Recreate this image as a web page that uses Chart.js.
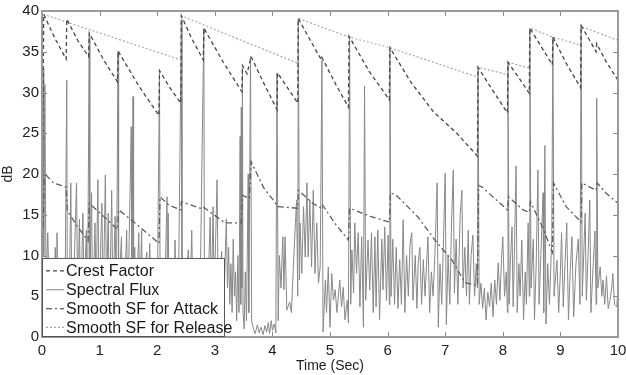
<!DOCTYPE html>
<html>
<head>
<meta charset="utf-8">
<script src="https://cdn.jsdelivr.net/npm/chart.js@4.4.0/dist/chart.umd.min.js"></script>
<style>
  body { margin: 0; background: #fff; }
</style>
</head>
<body>
<canvas id="chart" width="626" height="375"></canvas>
<script>
// values: [time (sec), dB]
const xTicks = [0, 1, 2, 3, 4, 5, 6, 7, 8, 9, 10];
const yTicks = [0, 5, 10, 15, 20, 25, 30, 35, 40];

const crestFactor = [
  [0, 13], [0.03, 39.6], [0.22, 36.7], [0.42, 34.1],
  [0.43, 39.0], [0.62, 36.4], [0.81, 34.4],
  [0.82, 37.3], [1.07, 34.0], [1.31, 31.3],
  [1.32, 35.1], [1.68, 30.8], [2.03, 27.2],
  [2.04, 32.7], [2.22, 30.6], [2.41, 28.7],
  [2.42, 39.4], [2.6, 36.6], [2.8, 34.0],
  [2.81, 37.9], [3.14, 33.8], [3.47, 30.1],
  [3.48, 33.3], [3.56, 32.3], [3.63, 34.4], [3.86, 31.0], [4.08, 27.9],
  [4.09, 32.4], [4.27, 30.5], [4.44, 28.7],
  [4.45, 39.1], [4.65, 36.5], [4.85, 34.0],
  [4.86, 34.3], [5.1, 31.0], [5.32, 28.2],
  [5.33, 36.9], [5.68, 32.6], [6.03, 29.1],
  [6.04, 35.5], [6.4, 31.3], [6.8, 27.6], [7.2, 25.0], [7.56, 22.2],
  [7.57, 33.1], [7.83, 30.2], [8.08, 27.5],
  [8.09, 33.7], [8.28, 31.8], [8.46, 29.9],
  [8.47, 37.9], [8.67, 35.6], [8.86, 33.4],
  [8.87, 36.8], [9.1, 33.6], [9.35, 30.6],
  [9.36, 38.2], [9.5, 36.5], [9.62, 35.0],
  [9.63, 36.0], [9.8, 33.7], [10, 31.5]
];

const spectralFlux = [
  [0, 8], [0.02, 33], [0.03, 10], [0.05, 31], [0.07, 6], [0.1, 12.8], [0.13, 4], [0.17, 7],
  [0.2, 3], [0.23, 11], [0.25, 5], [0.26, 12.8], [0.28, 3], [0.32, 6], [0.36, 2], [0.4, 5],
  [0.43, 31.5], [0.44, 4], [0.48, 8], [0.5, 18.9], [0.52, 3], [0.56, 9], [0.6, 18.9], [0.62, 4],
  [0.65, 14.4], [0.67, 2], [0.71, 15.2], [0.73, 5], [0.77, 13.1], [0.79, 3], [0.82, 37], [0.83, 6],
  [0.86, 17.7], [0.88, 3], [0.92, 14], [0.94, 5], [0.97, 19.3], [0.99, 4], [1.04, 16.4], [1.06, 3],
  [1.1, 19.9], [1.12, 5], [1.15, 15.2], [1.17, 2], [1.21, 18], [1.23, 4], [1.27, 14.8], [1.29, 3],
  [1.32, 35], [1.33, 5], [1.38, 12.3], [1.4, 2], [1.44, 7], [1.47, 13.1], [1.49, 3], [1.55, 25.8],
  [1.56, 4], [1.58, 29.5], [1.59, 6], [1.61, 11], [1.63, 3], [1.68, 12.8], [1.7, 5], [1.73, 13.1],
  [1.75, 2], [1.78, 8], [1.82, 10.4], [1.84, 3], [1.87, 11.5], [1.9, 4], [1.95, 7], [2.0, 3],
  [2.04, 32.5], [2.05, 6], [2.1, 3], [2.14, 8], [2.17, 17.2], [2.18, 4], [2.19, 15.2], [2.21, 3],
  [2.25, 7], [2.28, 2], [2.31, 11.9], [2.33, 4], [2.37, 6], [2.42, 39], [2.43, 5], [2.47, 3],
  [2.51, 7], [2.54, 10.7], [2.56, 3], [2.6, 13.1], [2.62, 4], [2.66, 6], [2.7, 2], [2.75, 8],
  [2.81, 37.9], [2.82, 5], [2.87, 3], [2.92, 14.7], [2.94, 4], [2.97, 16], [2.99, 5], [3.04, 19.3],
  [3.06, 3], [3.09, 8], [3.12, 10.5], [3.14, 4], [3.17, 7], [3.2, 14.5], [3.22, 6], [3.24, 11],
  [3.26, 4], [3.28, 9], [3.3, 3], [3.32, 12], [3.34, 5], [3.36, 8], [3.38, 2], [3.4, 10],
  [3.42, 3], [3.44, 24.6], [3.45, 4], [3.46, 28.2], [3.47, 6], [3.48, 33], [3.49, 3], [3.51, 1],
  [3.53, 8], [3.55, 2], [3.58, 20], [3.59, 3], [3.62, 34.4], [3.64, 2], [3.67, 1], [3.7, 0.4],
  [3.74, 1.5], [3.77, 0.5], [3.8, 1.2], [3.84, 0.3], [3.87, 1.4], [3.9, 0.6], [3.93, 1.8], [3.95, 0.4],
  [3.98, 2.0], [4.0, 0.8], [4.03, 1.6], [4.06, 0.5], [4.08, 32.4], [4.1, 2], [4.12, 10], [4.15, 6],
  [4.18, 12.3], [4.2, 5.8], [4.22, 12.3], [4.25, 3.3], [4.3, 4.3], [4.33, 3.0], [4.36, 8], [4.4, 14],
  [4.42, 16.8], [4.44, 5], [4.45, 39], [4.47, 7], [4.48, 14], [4.51, 7.8], [4.54, 16], [4.57, 9.8],
  [4.6, 18.9], [4.62, 9.8], [4.65, 16.8], [4.68, 8.6], [4.71, 18], [4.74, 7.8], [4.77, 14], [4.8, 6.6],
  [4.83, 8.6], [4.86, 34], [4.88, 0.6], [4.92, 7], [4.94, 3], [4.97, 8.6], [5.0, 1.2], [5.03, 7.8],
  [5.06, 4.5], [5.09, 5.8], [5.12, 3], [5.17, 7], [5.2, 3.7], [5.23, 6.1], [5.26, 2.1], [5.3, 4.5],
  [5.32, 1.7], [5.34, 36.8], [5.36, 4], [5.38, 10.7], [5.41, 5.4], [5.43, 14], [5.46, 7.8], [5.49, 12.8],
  [5.52, 3.7], [5.55, 12.3], [5.58, 1.2], [5.6, 30.8], [5.62, 4.5], [5.66, 11.9], [5.69, 5.8], [5.72, 12.8],
  [5.75, 3.0], [5.78, 12.3], [5.8, 3.7], [5.83, 13.1], [5.86, 2.1], [5.9, 12], [5.92, 5.8], [5.95, 13.5],
  [5.98, 4.5], [6.01, 12.5], [6.03, 4], [6.04, 35.5], [6.06, 5], [6.09, 12], [6.12, 4], [6.15, 11],
  [6.18, 3.5], [6.21, 9.5], [6.24, 4], [6.27, 14.4], [6.3, 3.0], [6.33, 10], [6.36, 5], [6.39, 11.5],
  [6.42, 12.8], [6.44, 4.5], [6.48, 10], [6.51, 3.5], [6.53, 9], [6.56, 11.0], [6.59, 4], [6.62, 9.5],
  [6.65, 5], [6.7, 12.3], [6.73, 3], [6.76, 8], [6.79, 5], [6.82, 10], [6.86, 18.9], [6.88, 1.2],
  [6.91, 9], [6.94, 4], [6.97, 12], [7.0, 20.1], [7.02, 1.5], [7.05, 10], [7.08, 4], [7.11, 14],
  [7.14, 20.5], [7.16, 5.4], [7.19, 12], [7.22, 4], [7.26, 15], [7.29, 18], [7.31, 6], [7.34, 11],
  [7.37, 5], [7.4, 13.1], [7.42, 4], [7.45, 10], [7.48, 12.5], [7.51, 5], [7.54, 9], [7.56, 6],
  [7.57, 33], [7.59, 4], [7.62, 6.6], [7.65, 3.5], [7.68, 6], [7.71, 2.1], [7.74, 5.5], [7.77, 3.7],
  [7.8, 6.6], [7.83, 2.5], [7.86, 7], [7.89, 4], [7.92, 9.1], [7.95, 4.5], [7.98, 10], [8.0, 12.3],
  [8.03, 5], [8.06, 8], [8.08, 3], [8.09, 33.7], [8.11, 4], [8.13, 9], [8.16, 13.5], [8.18, 3.7],
  [8.2, 10], [8.23, 21], [8.25, 3], [8.28, 9], [8.3, 5], [8.33, 11.9], [8.36, 2.1], [8.39, 8],
  [8.41, 4], [8.44, 14], [8.46, 5], [8.47, 37.9], [8.49, 6], [8.53, 12], [8.55, 2.1], [8.58, 9],
  [8.61, 20.5], [8.63, 4], [8.66, 10], [8.7, 17.7], [8.71, 3], [8.73, 23.5], [8.75, 1.6], [8.78, 9],
  [8.81, 4], [8.85, 12], [8.87, 36.8], [8.89, 5], [8.94, 9.4], [8.97, 3], [9.0, 8], [9.02, 12.8],
  [9.05, 3.7], [9.08, 9], [9.11, 14], [9.14, 2.1], [9.17, 8], [9.2, 12.3], [9.23, 2.5], [9.27, 9],
  [9.31, 12], [9.34, 4], [9.36, 38.2], [9.38, 5], [9.43, 15.2], [9.45, 4.5], [9.48, 10], [9.51, 16.8],
  [9.53, 3], [9.57, 9], [9.6, 13], [9.62, 4], [9.63, 29.3], [9.65, 6], [9.69, 8.6], [9.72, 5],
  [9.74, 7], [9.77, 4], [9.8, 7.5], [9.83, 3.5], [9.86, 4.5], [9.89, 6], [9.91, 7.8], [9.94, 4],
  [9.98, 3.7], [10, 6.5]
];

const smoothAttack = [
  [0.02, 13.5], [0.04, 20.1], [0.2, 18.9], [0.42, 18.4],
  [0.44, 15.5], [0.62, 13.5], [0.8, 11.8],
  [0.82, 16.4], [1.07, 14.8], [1.31, 13.2],
  [1.33, 15.6], [1.58, 14.2], [2.03, 11.5],
  [2.05, 17.2], [2.2, 16.2], [2.41, 15.6],
  [2.42, 16.6], [2.79, 15.7],
  [2.81, 15.9], [3.18, 14.0], [3.46, 14.0],
  [3.48, 17.4], [3.6, 17.0], [3.63, 21.5], [3.85, 18.3], [4.08, 16.2],
  [4.09, 16.0], [4.44, 15.8],
  [4.45, 18.0], [4.7, 16.4], [4.85, 15.8],
  [4.87, 16.2], [5.1, 13.8], [5.32, 11.9],
  [5.34, 15.8], [5.7, 14.8], [6.03, 14.1],
  [6.05, 17.7], [6.15, 17.4], [6.53, 14.7], [6.82, 11.9], [7.12, 9.4], [7.34, 6.7], [7.56, 6.3],
  [7.58, 18.6], [7.64, 18.4], [8.08, 15.6],
  [8.1, 17.2], [8.35, 15.6], [8.46, 15.3],
  [8.48, 16.6], [8.7, 13.3], [8.86, 10.4],
  [8.88, 18.9], [9.1, 16.0], [9.36, 14.1],
  [9.37, 18.9], [9.62, 18.0],
  [9.64, 18.9], [9.8, 17.6], [10, 16.4]
];

const smoothRelease = [
  [0.02, 39.6], [2.41, 34.0], [2.42, 39.4], [4.44, 33.6], [4.45, 39.1],
  [5.33, 36.8], [6.04, 35.5], [7.56, 31.9], [7.57, 33.1], [8.08, 32.2],
  [8.09, 33.7], [8.46, 33.0], [8.47, 37.9], [8.87, 36.8], [9.35, 35.8],
  [9.36, 38.1], [10, 36.4]
];

const seriesNames = ['Crest Factor', 'Spectral Flux', 'Smooth SF for Attack', 'Smooth SF for Release'];

function pts(arr) {
  return arr.map(p => ({ x: p[0], y: p[1] }));
}

const frameAndLegend = {
  id: 'frameAndLegend',
  afterDatasetsDraw(chart) {
    const ctx = chart.ctx;
    const a = chart.chartArea;
    const xs = chart.scales.x, ys = chart.scales.y;
    ctx.save();
    // inward tick marks on all four sides
    ctx.strokeStyle = '#8a8a8a';
    ctx.lineWidth = 1;
    ctx.beginPath();
    xTicks.forEach(t => {
      const px = Math.round(xs.getPixelForValue(t)) + 0.5;
      ctx.moveTo(px, a.bottom); ctx.lineTo(px, a.bottom - 5);
      ctx.moveTo(px, a.top); ctx.lineTo(px, a.top + 5);
    });
    yTicks.forEach(v => {
      const py = Math.round(ys.getPixelForValue(v)) + 0.5;
      ctx.moveTo(a.left, py); ctx.lineTo(a.left + 5, py);
      ctx.moveTo(a.right, py); ctx.lineTo(a.right - 5, py);
    });
    ctx.stroke();
    // box
    ctx.strokeStyle = '#9a9a9a';
    ctx.lineWidth = 2;
    ctx.strokeRect(a.left, a.top, a.right - a.left, a.bottom - a.top);

    // legend in lower left corner
    const lx = a.left, ly = ys.getPixelForValue(9.7), lw = 183, lh = a.bottom - ly;
    ctx.fillStyle = '#fff';
    ctx.fillRect(lx, ly, lw, lh);
    ctx.strokeStyle = '#555';
    ctx.lineWidth = 1;
    ctx.strokeRect(lx + 0.5, ly + 0.5, lw - 1, lh - 1);
    ctx.font = '16px "Liberation Sans", Arial, sans-serif';
    ctx.textBaseline = 'middle';
    ctx.fillStyle = '#1a1a1a';
    chart.data.datasets.forEach((ds, i) => {
      const y = ly + 13 + i * 18.8;
      ctx.strokeStyle = ds.borderColor;
      ctx.lineWidth = ds.borderWidth;
      ctx.setLineDash(ds.borderDash || []);
      ctx.beginPath();
      ctx.moveTo(lx + 4, y); ctx.lineTo(lx + 22, y);
      ctx.stroke();
      ctx.setLineDash([]);
      ctx.fillText(ds.label, lx + 24, y + 1);
    });
    ctx.restore();
  }
};

const tickFont = { family: '"Liberation Sans", Arial, sans-serif', size: 15 };

new Chart(document.getElementById('chart'), {
  type: 'line',
  data: {
    datasets: [{
      label: seriesNames[0],
      data: pts(crestFactor),
      borderColor: '#474747',
      borderWidth: 1.3,
      borderDash: [4, 3],
      order: 0
    }, {
      label: seriesNames[1],
      data: pts(spectralFlux),
      borderColor: '#888888',
      borderWidth: 1,
      order: 3
    }, {
      label: seriesNames[2],
      data: pts(smoothAttack),
      borderColor: '#5e5e5e',
      borderWidth: 1.3,
      borderDash: [6, 3, 2, 3],
      order: 1
    }, {
      label: seriesNames[3],
      data: pts(smoothRelease),
      borderColor: '#a8a8a8',
      borderWidth: 1.2,
      borderDash: [2, 2],
      order: 2
    }]
  },
  options: {
    responsive: false,
    animation: false,
    devicePixelRatio: 1,
    layout: { padding: { top: 11, right: 8, left: 0, bottom: 0 } },
    elements: { point: { radius: 0 }, line: { tension: 0 } },
    plugins: { legend: { display: false }, tooltip: { enabled: false } },
    scales: {
      x: {
        type: 'linear',
        min: 0, max: 10,
        grid: { display: false, drawTicks: false },
        border: { display: false },
        ticks: { stepSize: 1, color: '#222', font: tickFont, padding: 5, maxRotation: 0 },
        title: { display: true, text: 'Time (Sec)', color: '#222', font: { family: tickFont.family, size: 14 }, padding: 0 },
        afterFit: s => { s.height = 38; s.paddingLeft = 0; s.paddingRight = 0; }
      },
      y: {
        min: 0, max: 40,
        grid: { display: false, drawTicks: false },
        border: { display: false },
        ticks: { stepSize: 5, color: '#222', font: tickFont, padding: 3 },
        title: { display: true, text: 'dB', color: '#222', font: { family: tickFont.family, size: 14 }, padding: 0 },
        afterFit: s => { s.width = 42; s.paddingTop = 0; s.paddingBottom = 0; }
      }
    }
  },
  plugins: [frameAndLegend]
});
</script>
</body>
</html>
